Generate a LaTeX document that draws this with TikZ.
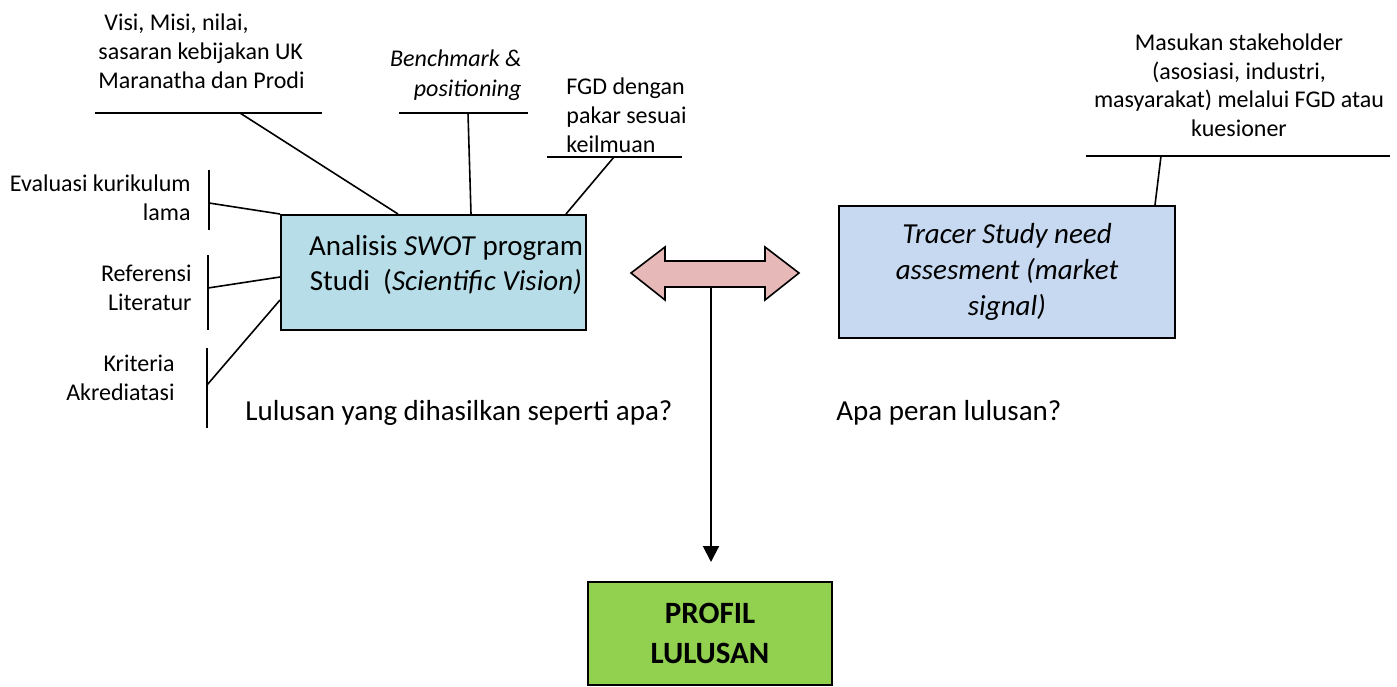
\documentclass[tikz,border=0pt]{standalone}
\usepackage{fontspec}
\setmainfont{Carlito}
\usetikzlibrary{arrows.meta}
\definecolor{swotfill}{HTML}{B7DEE8}
\definecolor{tracerfill}{HTML}{C6D9F1}
\definecolor{profilfill}{HTML}{92D050}
\definecolor{pinkfill}{HTML}{E6B9B8}
\begin{document}
\begin{tikzpicture}[x=0.5pt,y=-0.5pt,
  lbl/.style={font=\fontsize{12}{14.5}\selectfont, inner sep=0pt},
  big/.style={font=\fontsize{14.5}{17.5}\selectfont, inner sep=0pt},
  conn/.style={line width=0.8pt},
  box/.style={draw, line width=1pt, inner sep=0pt}]
\useasboundingbox (0,0) rectangle (1397,686);

% boxes
\node[box, fill=swotfill, minimum width=152.5pt, minimum height=57.5pt] (swot) at (433.5,272.5) {};
\node[big, align=center] (swottext) at (446,264.5) {Analisis \textit{SWOT} program\\Studi\ \ (\textit{Scientific Vision)}};
\node[box, fill=tracerfill, minimum width=168pt, minimum height=66pt,
      font=\fontsize{14.5}{18}\selectfont\itshape, align=center] (tracer) at (1007,272) {Tracer Study need\\assesment (market\\signal)};
\node[box, fill=profilfill, minimum width=122pt, minimum height=51.5pt,
      font=\fontsize{15.5}{20}\selectfont\bfseries, align=center] (profil) at (710,633.5) {PROFIL\\LULUSAN};

% top labels
\node[lbl, align=left, anchor=west] (visi) at (98,51) {\hspace*{3pt}Visi, Misi, nilai,\\sasaran kebijakan UK\\Maranatha dan Prodi};
\draw[conn] (95,113) -- (322,113);
\draw[conn] (240,113) -- ([xshift=-17.75pt]swot.north);

\node[lbl, align=right, anchor=east, font=\fontsize{12}{15}\selectfont\itshape] (bench) at (522,75) {Benchmark \&\\positioning};
\draw[conn] (399,113) -- (528,113);
\draw[conn] (468,113) -- ([xshift=18.75pt]swot.north);

\node[lbl, align=left, anchor=west] (fgd) at (566,115) {FGD dengan\\pakar sesuai\\keilmuan};
\draw[conn] (547,157) -- (682,157);
\draw[conn] (614,157) -- ([xshift=66.25pt]swot.north);

% left labels
\node[lbl, align=right, anchor=east] (eval) at (191,197.5) {Evaluasi kurikulum\\lama};
\draw[conn] (209,170) -- (209,230);
\draw[conn] (209,203) -- (swot.north west);

\node[lbl, align=right, anchor=east] (ref) at (192,287.5) {Referensi\\Literatur};
\draw[conn] (208,255) -- (208,330);
\draw[conn] (208,288) -- ([yshift=-2.25pt]swot.west);

\node[lbl, align=right, anchor=east] (krit) at (175,378) {Kriteria\\Akrediatasi};
\draw[conn] (207,348) -- (207,428);
\draw[conn] (207,385) -- ([yshift=-13.75pt]swot.west);

% stakeholder
\node[lbl, align=center, font=\fontsize{12}{14.25}\selectfont] (stake) at (1239,85.5) {Masukan stakeholder\\(asosiasi, industri,\\masyarakat) melalui FGD atau\\kuesioner};
\draw[conn] (1086,156) -- (1390,156);
\draw[conn] (1161,156) -- ([xshift=74pt]tracer.north);

% questions
\node[big, anchor=west] (q1) at (245,413) {Lulusan yang dihasilkan seperti apa?};
\node[big, anchor=west] (q2) at (836,413) {Apa peran lulusan?};

% double arrow
\draw[line width=0.8pt, fill=pinkfill] (631,273) -- (665,247) -- (665,261) -- (765,261) -- (765,247) -- (799,273) -- (765,300) -- (765,287) -- (665,287) -- (665,300) -- cycle;
\coordinate (dar) at (711,287);
\draw[line width=1pt, -{Triangle[length=8pt,width=8pt]}, shorten >=9.5pt] (dar) -- (profil.north -| dar);
\end{tikzpicture}
\end{document}
